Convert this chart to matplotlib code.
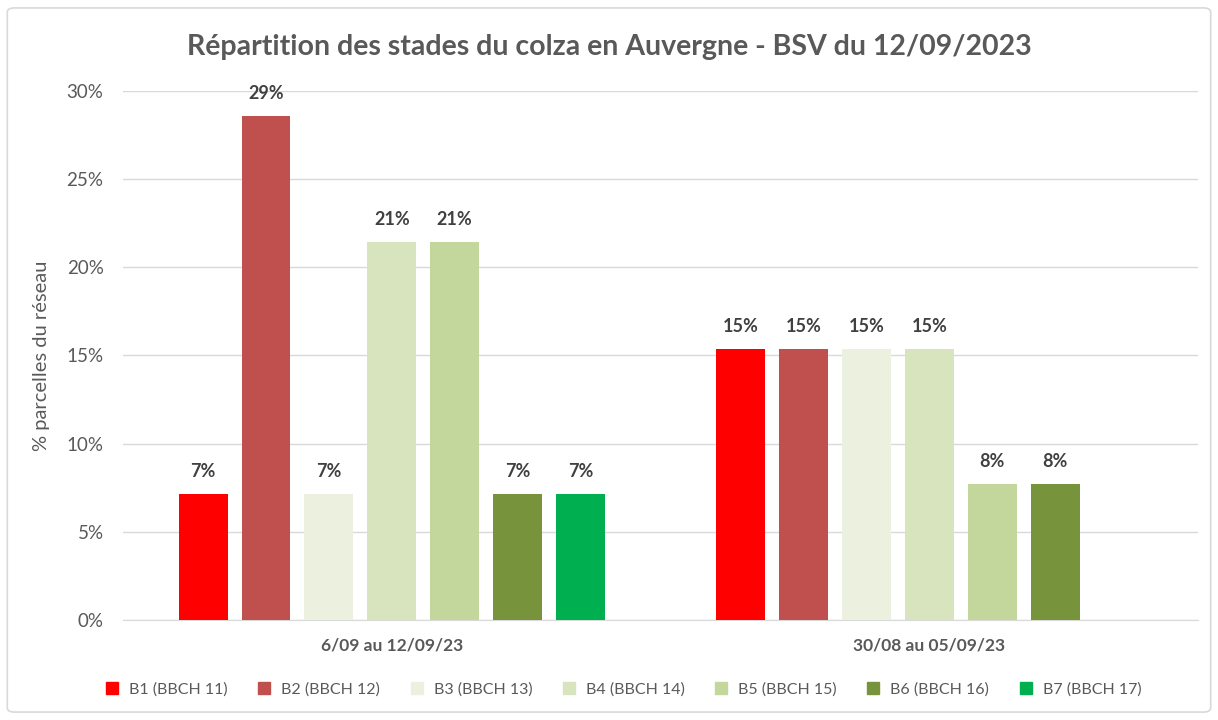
import numpy as np
import matplotlib
matplotlib.use('Agg')
import matplotlib.pyplot as plt
from matplotlib.patches import FancyBboxPatch
from matplotlib.lines import Line2D

plt.rcParams['font.family'] = ['Lato', 'DejaVu Sans']

title = "Répartition des stades du colza en Auvergne - BSV du 12/09/2023"
periods = ["6/09 au 12/09/23", "30/08 au 05/09/23"]
stages = ["B1 (BBCH 11)", "B2 (BBCH 12)", "B3 (BBCH 13)", "B4 (BBCH 14)",
          "B5 (BBCH 15)", "B6 (BBCH 16)", "B7 (BBCH 17)"]
colors = ["#FF0000", "#C0504D", "#EBF1DE", "#D7E4BD", "#C3D69B", "#77933C", "#00B050"]
# share of plots (%) per stage, one list per period
week1 = [7.14, 28.57, 7.14, 21.43, 21.43, 7.14, 7.14]
week2 = [15.38, 15.38, 15.38, 15.38, 7.69, 7.69, 0.0]

grey = "#595959"
fig = plt.figure(figsize=(12.18, 7.2), dpi=100)
fig.patches.append(FancyBboxPatch((0.006, 0.011), 0.988, 0.978, boxstyle="round,pad=0,rounding_size=0.006",
                                  transform=fig.transFigure, fill=False, edgecolor="#D9D9D9", lw=1.2))
ax = fig.add_axes([0.101, 0.139, 0.8826, 0.7346])

x = np.arange(len(periods))
pitch = 0.117
width = 0.091
vals = np.array([week1, week2])
for i, (name, col) in enumerate(zip(stages, colors)):
    pos = x + (i - 3) * pitch
    h = vals[:, i]
    ax.bar(pos, h, width, color=col, label=name, zorder=3)
    for px, v in zip(pos, h):
        if v > 0:
            ax.text(px, v + 0.8, f"{v:.0f}%", ha="center", va="bottom",
                    fontsize=13, fontweight="bold", color="#404040")

ax.set_xlim(-0.5, 1.5)
ax.set_ylim(0, 30)
ax.set_yticks(np.arange(0, 31, 5))
ax.set_yticklabels([f"{t}%" for t in range(0, 31, 5)])
ax.yaxis.grid(True, color="#D9D9D9", lw=1, zorder=0)
ax.set_xticks(x)
ax.set_xticklabels(periods, fontweight="bold")
ax.tick_params(axis="x", length=0, pad=13, labelsize=12.5, labelcolor=grey)
ax.tick_params(axis="y", length=0, pad=14, labelsize=13.5, labelcolor=grey)
for s in ["top", "right", "left"]:
    ax.spines[s].set_visible(False)
ax.spines["bottom"].set_color("#D9D9D9")
ax.set_ylabel("% parcelles du réseau", fontsize=14.5, color=grey, labelpad=12)

fig.text(0.5, 0.935, title, ha="center", va="center", fontsize=20.5, fontweight="bold", color=grey)

handles = [Line2D([], [], marker="s", ls="", markersize=8, markerfacecolor=c, markeredgecolor=c)
           for c in colors]
fig.legend(handles, stages, loc="center", bbox_to_anchor=(0.508, 0.042), ncol=7, frameon=False,
           fontsize=11.5, labelcolor=grey, handletextpad=0.05, columnspacing=1.3)

fig.savefig("out.png", dpi=100)
